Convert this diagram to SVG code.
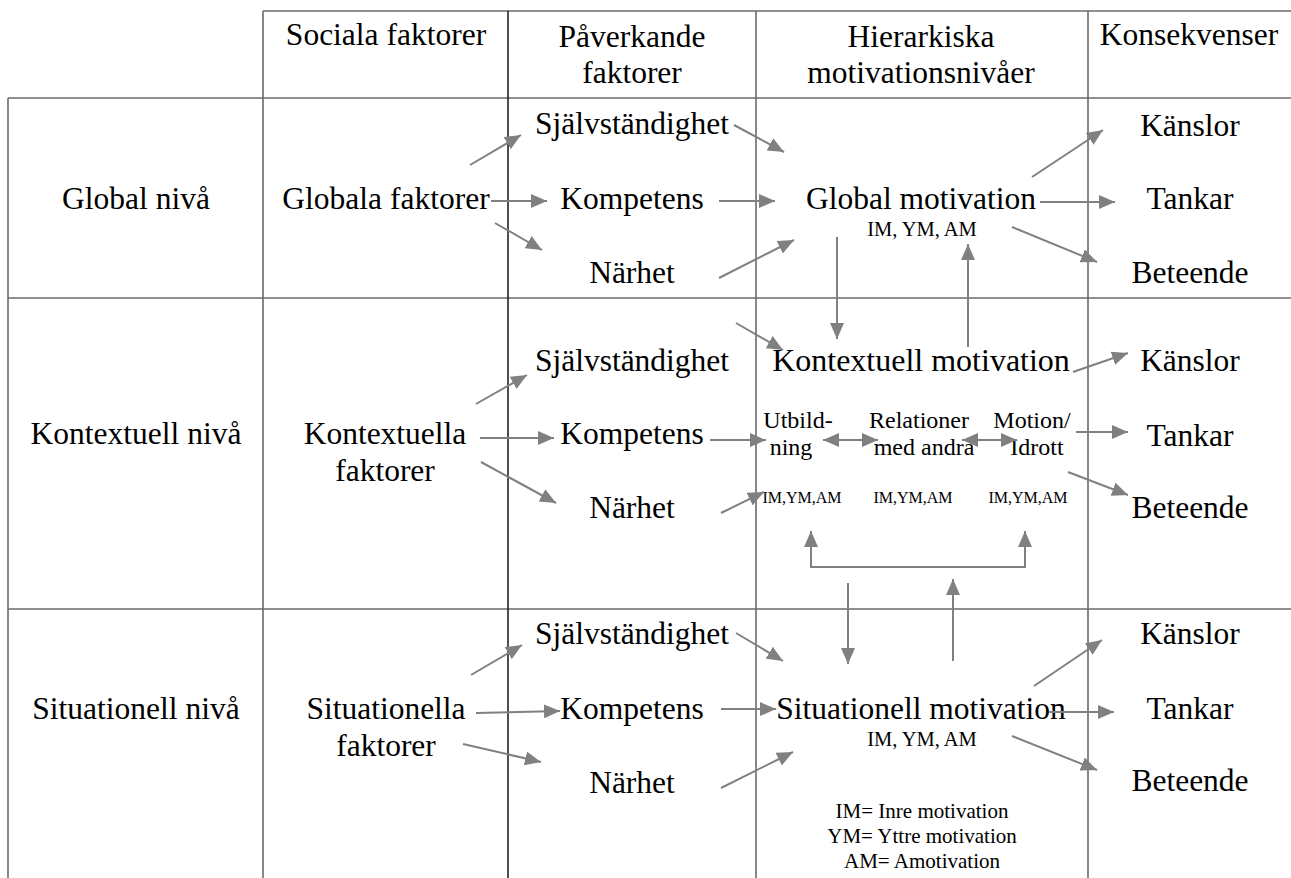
<svg xmlns="http://www.w3.org/2000/svg" width="1291" height="878" viewBox="0 0 1291 878">
<style>
text{font-family:"Liberation Serif","Times New Roman",serif;fill:#000;text-anchor:middle}
.m{font-size:31.5px}
.k{font-size:32px}
.s{font-size:24px}
.xs{font-size:16px}
.im{font-size:20.5px}
.lg{font-size:21px}
.grid line{stroke:#6a6a6a;stroke-width:1.6}
.c line,.c path{stroke:#808080;stroke-width:2;fill:none;marker-end:url(#ah)}
.c .d{marker-start:url(#ah)}
</style>
<defs>
<marker id="ah" markerUnits="userSpaceOnUse" markerWidth="16" markerHeight="14" refX="16" refY="7" orient="auto-start-reverse" viewBox="0 0 16 14">
<path d="M0,0 L16,7 L0,14 z" fill="#808080"/>
</marker>
</defs>
<rect width="1291" height="878" fill="#fff"/>
<g id="grid" class="grid">
<line x1="263" y1="11" x2="1291" y2="11"/>
<line x1="8" y1="98" x2="1291" y2="98"/>
<line x1="8" y1="298" x2="1291" y2="298"/>
<line x1="8" y1="609" x2="1291" y2="609"/>
<line x1="8" y1="98" x2="8" y2="878"/>
<line x1="263" y1="11" x2="263" y2="878"/>
<line x1="508" y1="11" x2="508" y2="878" style="stroke:#222"/>
<line x1="756" y1="11" x2="756" y2="878"/>
<line x1="1088" y1="11" x2="1088" y2="878"/>
</g>
<g id="headers">
<text class="m" x="386" y="45">Sociala faktorer</text>
<text class="m" x="632" y="47">Påverkande</text>
<text class="m" x="632" y="83">faktorer</text>
<text class="m" x="921" y="47">Hierarkiska</text>
<text class="m" x="921" y="83">motivationsnivåer</text>
<text class="m" x="1189" y="45">Konsekvenser</text>
</g>
<g id="global-level"><text class="m" x="136" y="209">Global nivå</text></g>
<g id="context-level"><text class="m" x="136" y="444">Kontextuell nivå</text></g>
<g id="situation-level"><text class="m" x="136" y="719">Situationell nivå</text></g>

<g id="global-factors"><text class="m" x="386" y="209">Globala faktorer</text></g>
<g id="g-autonomy"><text class="m" x="632" y="134">Självständighet</text></g>
<g id="g-competence"><text class="m" x="632" y="209">Kompetens</text></g>
<g id="g-relatedness"><text class="m" x="632" y="283">Närhet</text></g>
<g id="global-motivation"><text class="m" x="921" y="209">Global motivation</text><text class="im" x="922" y="236">IM, YM, AM</text></g>
<g id="g-feelings"><text class="m" x="1190" y="136">Känslor</text></g>
<g id="g-thoughts"><text class="m" x="1190" y="209">Tankar</text></g>
<g id="g-behaviour"><text class="m" x="1190" y="283">Beteende</text></g>

<g id="context-factors"><text class="m" x="385" y="444">Kontextuella</text><text class="m" x="385" y="481">faktorer</text></g>
<g id="c-autonomy"><text class="m" x="632" y="371">Självständighet</text></g>
<g id="c-competence"><text class="m" x="632" y="444">Kompetens</text></g>
<g id="c-relatedness"><text class="m" x="632" y="518">Närhet</text></g>
<g id="context-motivation"><text class="k" x="921" y="371">Kontextuell motivation</text></g>
<g id="education"><text class="s" x="798" y="428">Utbild-</text><text class="s" x="791" y="455">ning</text><text class="xs" x="802" y="503">IM,YM,AM</text></g>
<g id="relations"><text class="s" x="919" y="428">Relationer</text><text class="s" x="924" y="455">med andra</text><text class="xs" x="913" y="503">IM,YM,AM</text></g>
<g id="exercise"><text class="s" x="1032" y="428">Motion/</text><text class="s" x="1037" y="455">Idrott</text><text class="xs" x="1028" y="503">IM,YM,AM</text></g>
<g id="c-feelings"><text class="m" x="1190" y="371">Känslor</text></g>
<g id="c-thoughts"><text class="m" x="1190" y="446">Tankar</text></g>
<g id="c-behaviour"><text class="m" x="1190" y="518">Beteende</text></g>

<g id="situation-factors"><text class="m" x="386" y="719">Situationella</text><text class="m" x="386" y="756">faktorer</text></g>
<g id="s-autonomy"><text class="m" x="632" y="644">Självständighet</text></g>
<g id="s-competence"><text class="m" x="632" y="719">Kompetens</text></g>
<g id="s-relatedness"><text class="m" x="632" y="793">Närhet</text></g>
<g id="situation-motivation"><text class="m" x="921" y="719">Situationell motivation</text><text class="im" x="922" y="746">IM, YM, AM</text></g>
<g id="s-feelings"><text class="m" x="1190" y="644">Känslor</text></g>
<g id="s-thoughts"><text class="m" x="1190" y="719">Tankar</text></g>
<g id="s-behaviour"><text class="m" x="1190" y="791">Beteende</text></g>
<g id="legend"><text class="lg" x="922" y="818">IM= Inre motivation</text><text class="lg" x="922" y="843">YM= Yttre motivation</text><text class="lg" x="922" y="868">AM= Amotivation</text></g>

<g id="connectors" class="c">
<line x1="470" y1="165" x2="521" y2="135"/>
<line x1="491" y1="201" x2="547" y2="201"/>
<line x1="495" y1="223" x2="542" y2="250"/>
<line x1="734" y1="125" x2="784" y2="152"/>
<line x1="719" y1="201" x2="775" y2="201"/>
<line x1="719" y1="278" x2="794" y2="240"/>
<line x1="1032" y1="177" x2="1103" y2="130"/>
<line x1="1040" y1="202" x2="1115" y2="202"/>
<line x1="1012" y1="227" x2="1097" y2="262"/>
<line x1="837" y1="237" x2="837" y2="339"/>
<line x1="968" y1="347" x2="968" y2="244"/>

<line x1="476" y1="404" x2="527" y2="375"/>
<line x1="480" y1="438" x2="554" y2="438"/>
<line x1="481" y1="462" x2="556" y2="503"/>
<line x1="736" y1="323" x2="783" y2="350"/>
<line x1="710" y1="440" x2="766" y2="440"/>
<line x1="721" y1="513" x2="764" y2="492"/>
<line class="d" x1="823" y1="440" x2="878" y2="440"/>
<line class="d" x1="962" y1="440" x2="1017" y2="440"/>
<line x1="1073" y1="372" x2="1128" y2="353"/>
<line x1="1076" y1="432" x2="1128" y2="432"/>
<line x1="1068" y1="472" x2="1128" y2="495"/>
<path class="d" d="M811,531 L811,567 L1025,567 L1025,531"/>
<line x1="848" y1="583" x2="848" y2="664"/>
<line x1="953" y1="661" x2="953" y2="579"/>

<line x1="471" y1="675" x2="522" y2="645"/>
<line x1="476" y1="713" x2="560" y2="711"/>
<line x1="463" y1="744" x2="541" y2="762"/>
<line x1="736" y1="633" x2="783" y2="661"/>
<line x1="721" y1="709" x2="776" y2="709"/>
<line x1="721" y1="788" x2="793" y2="752"/>
<line x1="1034" y1="686" x2="1102" y2="640"/>
<line x1="1049" y1="712" x2="1114" y2="712"/>
<line x1="1012" y1="736" x2="1097" y2="770"/>
</g>
</svg>
